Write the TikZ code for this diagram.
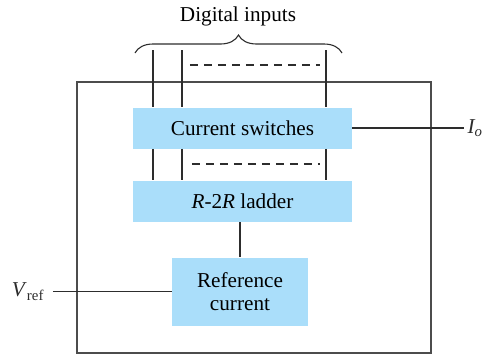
\documentclass[tikz,border=0pt]{standalone}
\usepackage{fontspec}
\setmainfont{Liberation Serif}
\definecolor{dacblue}{RGB}{170,222,250}
\definecolor{dacline}{RGB}{45,45,45}
\usetikzlibrary{positioning,decorations.pathreplacing}

\begin{document}
\begin{tikzpicture}[x=0.5pt,y=-0.5pt,node distance=15.75pt,
  every node/.style={font=\fontsize{10.6}{11.5}\selectfont},
  blk/.style={fill=dacblue,inner sep=0pt,minimum width=109.5pt,minimum height=20.5pt,align=center},
  wire/.style={dacline,line width=0.55pt},
  dashwire/.style={wire,dash pattern=on 4pt off 3pt}]
\useasboundingbox (0,0) rectangle (489,354);
\draw[wire,black!70,line width=0.75pt] (77,82) rectangle (431,353);
\node[blk] (sw) at (242.5,128) {Current switches};
\node[blk,below=of sw] (ld) {\textit{R}-2\textit{R} ladder};
\node[blk,minimum width=68pt,minimum height=34pt,below=17.5pt of ld,xshift=-1.25pt] (rc) {Reference\\current};
% digital inputs
\coordinate (b1) at (153,50);
\coordinate (b2) at (182,50);
\coordinate (b3) at (326,50);
\foreach \b in {b1,b2,b3}{
  \draw[wire] (\b) -- (\b |- sw.north);
  \draw[wire] (\b |- sw.south) -- (\b |- ld.north);
}
\coordinate (d1) at (190,65);
\coordinate (d2) at (320,65);
\coordinate (d3) at (192,164);
\coordinate (d4) at (320,164);
\draw[dashwire] (d1) -- (d2);
\draw[dashwire] (d3) -- (d4);
\coordinate (br1) at (135,53);
\coordinate (br2) at (342,53);
\draw[wire,decorate,decoration={brace,amplitude=9pt}] (br1) -- (br2);
\node (dig) at (238,16) {Digital inputs};
% output and reference
\coordinate (io) at (464,128);
\draw[wire] (sw.east) -- (io) node[right,inner sep=1.5pt] (iolab) {\textit{I\textsubscript{o}}};
\draw[wire] (ld.south -| rc.north) -- (rc.north);
\coordinate (vr) at (53,290);
\draw[wire] (vr |- rc.west) -- (rc.west) node[pos=0,left,inner sep=4pt] (vrlab) {\textit{V}\textsubscript{ref}};
\end{tikzpicture}
\end{document}
